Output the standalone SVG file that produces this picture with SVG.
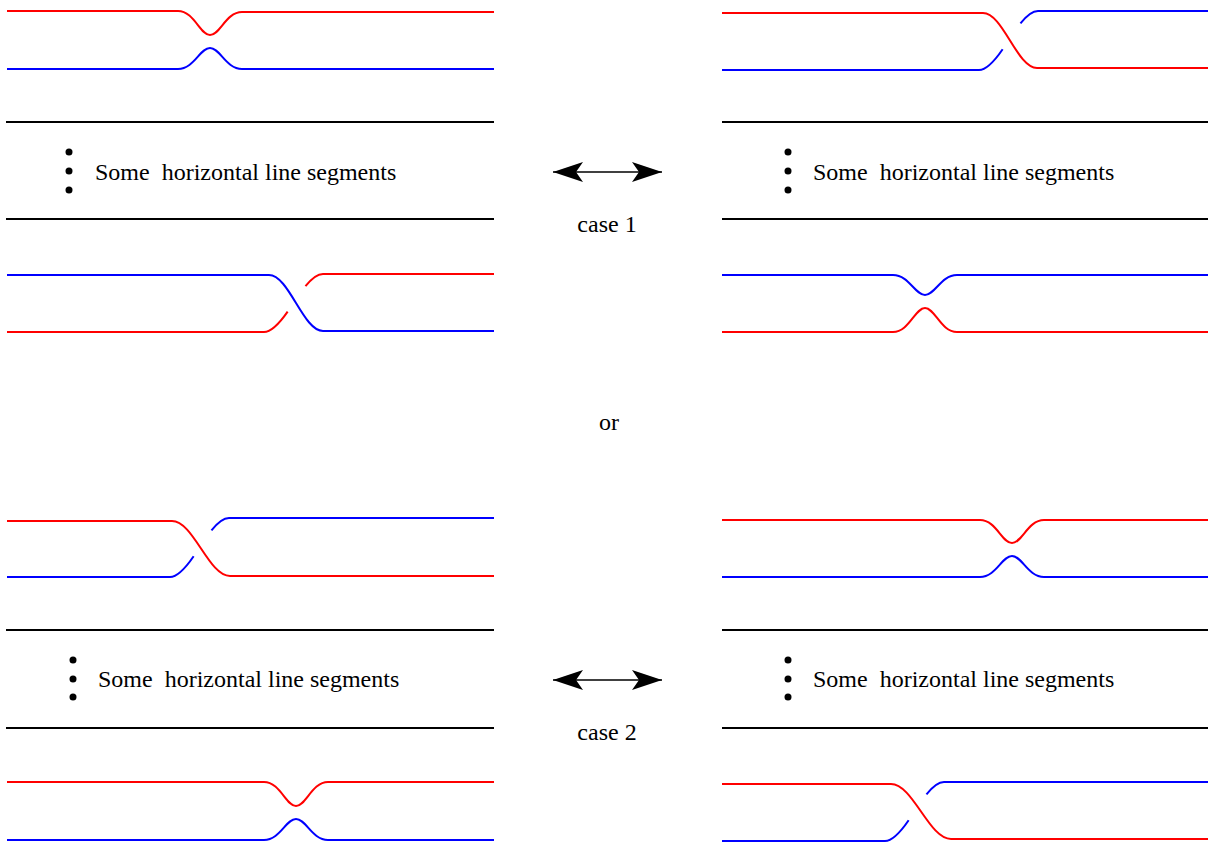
<svg xmlns="http://www.w3.org/2000/svg" width="1211" height="846" viewBox="0 0 1211 846">
<style>
.r{fill:none;stroke:#ff0000;stroke-width:2}
.b{fill:none;stroke:#0000ff;stroke-width:2}
.k{fill:none;stroke:#000;stroke-width:2}
.t{font-family:"Liberation Serif","Times New Roman",serif;font-size:24px;fill:#000;white-space:pre}
.d{fill:#000}
.ar{fill:none;stroke:#000;stroke-width:1.6}
</style>
<defs>
<marker id="ah" viewBox="0 -11 31 22" markerWidth="31" markerHeight="22" refX="30" refY="0" markerUnits="userSpaceOnUse" orient="auto-start-reverse">
<path d="M0,-10 L30,0 L0,10 L7,0 Z" fill="#000"/>
</marker>
</defs>
<rect width="1211" height="846" fill="#fff"/>

<g id="case1-left">
<path class="r" d="M7,11 H178 C194,11 200,35 210,35 C220,35 226,12 242,12 H494"/>
<path class="b" d="M7,69 H178 C194,69 200,48 210,48 C220,48 226,69 242,69 H494"/>
<path class="k" d="M6,122 H494 M6,219 H494"/>
<circle class="d" cx="69" cy="152" r="3.5"/><circle class="d" cx="69" cy="171" r="3.5"/><circle class="d" cx="69" cy="190" r="3.5"/>
<text class="t" x="95" y="180" xml:space="preserve">Some  horizontal line segments</text>
<path class="b" d="M7,275 H269 C289,275 303,331 323,331 H494"/>
<path class="r" d="M7,332 H264 c8,0 15.84,-9.28 23.65,-20.44"/>
<path class="r" d="M305.47,286.24 c5.62,-7.02 11.53,-12.24 17.53,-12.24 H494"/>
</g>

<g id="case1-right">
<path class="r" d="M722,13 H983 C1003,13 1017,68 1037,68 H1208"/>
<path class="b" d="M722,70 H979 c8,0 15.84,-9.44 23.65,-20.79"/>
<path class="b" d="M1020.47,23.45 c5.62,-7.14 11.53,-12.45 17.53,-12.45 H1208"/>
<path class="k" d="M722,122 H1208 M722,219 H1208"/>
<circle class="d" cx="788" cy="152" r="3.5"/><circle class="d" cx="788" cy="171" r="3.5"/><circle class="d" cx="788" cy="190" r="3.5"/>
<text class="t" x="813" y="180" xml:space="preserve">Some  horizontal line segments</text>
<path class="b" d="M722,275 H893 C909,275 915,295 925,295 C935,295 941,275 957,275 H1208"/>
<path class="r" d="M722,332 H893 C909,332 915,308 925,308 C935,308 941,332 957,332 H1208"/>
</g>

<g id="case2-left">
<path class="r" d="M7,521 H172 C193.5,521 208.5,576 230,576 H494"/>
<path class="b" d="M7,577 H170 c8,0 15.84,-9.44 23.65,-20.79"/>
<path class="b" d="M211.47,530.45 c5.62,-7.14 11.53,-12.45 17.53,-12.45 H494"/>
<path class="k" d="M6,630 H494 M6,728 H494"/>
<circle class="d" cx="73" cy="660" r="3.5"/><circle class="d" cx="73" cy="679" r="3.5"/><circle class="d" cx="73" cy="697" r="3.5"/>
<text class="t" x="98" y="687" xml:space="preserve">Some  horizontal line segments</text>
<path class="r" d="M7,782 H264 C280,782 286,806 296,806 C306,806 312,782 328,782 H494"/>
<path class="b" d="M7,840 H264 C280,840 286,819 296,819 C306,819 312,840 328,840 H494"/>
</g>

<g id="case2-right">
<path class="r" d="M722,520 H980 C996,520 1002,543 1012,543 C1022,543 1028,520 1044,520 H1208"/>
<path class="b" d="M722,577 H980 C996,577 1002,556 1012,556 C1022,556 1028,577 1044,577 H1208"/>
<path class="k" d="M722,630 H1208 M722,728 H1208"/>
<circle class="d" cx="788" cy="660" r="3.5"/><circle class="d" cx="788" cy="679" r="3.5"/><circle class="d" cx="788" cy="697" r="3.5"/>
<text class="t" x="813" y="687" xml:space="preserve">Some  horizontal line segments</text>
<path class="r" d="M722,784 H891 C913,784 929,839 951,839 H1208"/>
<path class="b" d="M722,841 H885 c8,0 15.84,-9.44 23.65,-20.79"/>
<path class="b" d="M926.47,794.45 c5.62,-7.14 11.53,-12.45 17.53,-12.45 H1208"/>
</g>

<g id="connectors">
<line class="ar" x1="553" y1="172" x2="662" y2="172" marker-start="url(#ah)" marker-end="url(#ah)"/>
<line class="ar" x1="553" y1="680" x2="662" y2="680" marker-start="url(#ah)" marker-end="url(#ah)"/>
</g>

<g id="labels">
<text class="t" x="607" y="232" text-anchor="middle">case 1</text>
<text class="t" x="609" y="430" text-anchor="middle">or</text>
<text class="t" x="607" y="740" text-anchor="middle">case 2</text>
</g>
</svg>
